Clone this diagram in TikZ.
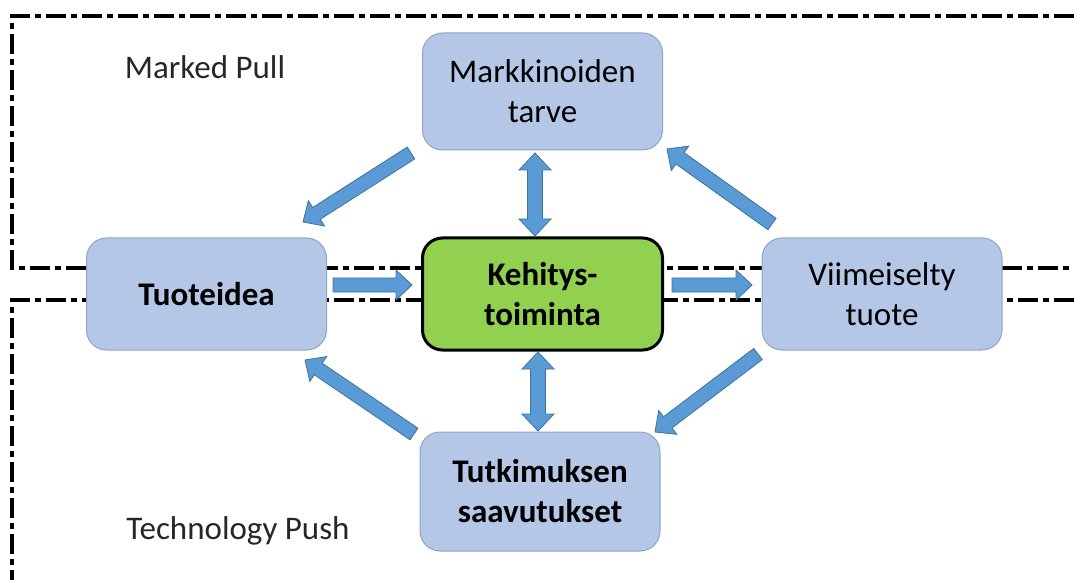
\documentclass[tikz,border=0pt]{standalone}
\usepackage{fontspec}
\setmainfont{Carlito}
\usetikzlibrary{calc}
\definecolor{boxfill}{HTML}{B4C7E7}
\definecolor{boxline}{HTML}{8EA4C8}
\definecolor{arrfill}{HTML}{5B9BD5}
\definecolor{arrline}{HTML}{41719C}
\definecolor{greenfill}{HTML}{92D050}
\tikzset{
  box/.style={draw=boxline, line width=1pt, fill=boxfill, rounded corners=20pt,
    minimum width=240pt, minimum height=114pt, align=center,
    font=\fontsize{33}{40}\selectfont, inner sep=0pt},
  bfbox/.style={box, font=\fontsize{33}{40}\selectfont\bfseries},
  core/.style={box, draw=black, line width=3pt, fill=greenfill,
    font=\fontsize{33}{40}\selectfont\bfseries},
  border/.style={line width=4.5pt, dash pattern=on 20pt off 5pt on 6pt off 5pt},
  barr/.style={fill=arrfill, draw=arrline, line width=0.8pt, line join=miter},
  lbl/.style={font=\fontsize{33}{40}\selectfont, text=black!85}
}
\newcommand\blockarrow[2]{%
  \filldraw[barr] ($(#1)!7pt!90:(#2)$)
    -- ($(#2)!16pt!(#1)!7pt!90:(#2)$)
    -- ($(#2)!16pt!(#1)!15pt!90:(#2)$)
    -- (#2)
    -- ($(#2)!16pt!(#1)!15pt!-90:(#2)$)
    -- ($(#2)!16pt!(#1)!7pt!-90:(#2)$)
    -- ($(#1)!7pt!-90:(#2)$) -- cycle;}
\newcommand\dblarrow[2]{%
  \filldraw[barr] (#1)
    -- ($(#1)!17pt!(#2)!16pt!90:(#2)$)
    -- ($(#1)!17pt!(#2)!7.5pt!90:(#2)$)
    -- ($(#2)!17pt!(#1)!7.5pt!90:(#2)$)
    -- ($(#2)!17pt!(#1)!16pt!90:(#2)$)
    -- (#2)
    -- ($(#2)!17pt!(#1)!16pt!-90:(#2)$)
    -- ($(#2)!17pt!(#1)!7.5pt!-90:(#2)$)
    -- ($(#1)!17pt!(#2)!7.5pt!-90:(#2)$)
    -- ($(#1)!17pt!(#2)!16pt!-90:(#2)$) -- cycle;}
\begin{document}
\begin{tikzpicture}[x=1pt, y=-1pt]
\useasboundingbox (0,0) rectangle (1074,580);
% dash-dot borders
\draw[border] (1074,16) -- (12,16) -- (12,268) -- (1074,268);
\draw[border] (1074,300) -- (12,300) -- (12,580);
% labels
\node[lbl] (mp) at (205,67) {Marked Pull};
\node[lbl] (tp) at (238,531) {Technology Push};
% nodes
\node[box, minimum height=117pt] (mk) at (542.5,91.5) {Markkinoiden\\tarve};
\node[bfbox, minimum height=112pt] (ti) at (206.5,294) {Tuoteidea};
\node[core, minimum height=112pt] (ke) at (542.5,294) {Kehitys-\\toiminta};
\node[box, minimum height=112pt] (vi) at (882,294) {Viimeiselty\\tuote};
\node[bfbox, minimum height=119pt] (tu) at (540,491.5) {Tutkimuksen\\saavutukset};
% arrow end points
\coordinate (mk-ti-s) at (411,153);
\coordinate (mk-ti-e) at (303,222);
\coordinate (vi-mk-s) at (772,224);
\coordinate (vi-mk-e) at (667,149);
\coordinate (vi-tu-s) at (758,354);
\coordinate (vi-tu-e) at (655,432);
\coordinate (tu-ti-s) at (414,434);
\coordinate (tu-ti-e) at (305,360);
\coordinate (ti-ke-s) at (333,285);
\coordinate (ti-ke-e) at (412,285);
\coordinate (ke-vi-s) at (672,285);
\coordinate (ke-vi-e) at (752,285);
\coordinate (mk-ke-s) at (535,153);
\coordinate (mk-ke-e) at (535,236);
\coordinate (ke-tu-s) at (538,352);
\coordinate (ke-tu-e) at (538,431);
% arrows
\blockarrow{mk-ti-s}{mk-ti-e}
\blockarrow{vi-mk-s}{vi-mk-e}
\blockarrow{vi-tu-s}{vi-tu-e}
\blockarrow{tu-ti-s}{tu-ti-e}
\blockarrow{ti-ke-s}{ti-ke-e}
\blockarrow{ke-vi-s}{ke-vi-e}
\dblarrow{mk-ke-s}{mk-ke-e}
\dblarrow{ke-tu-s}{ke-tu-e}
\end{tikzpicture}
\end{document}
